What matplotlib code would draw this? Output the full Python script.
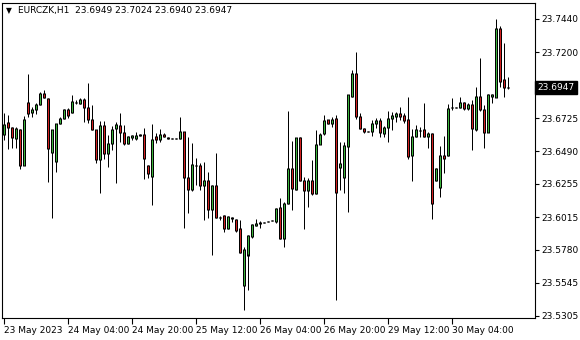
import matplotlib
matplotlib.use("Agg")
import matplotlib.pyplot as plt
from matplotlib.transforms import blended_transform_factory

# ---------------- data (EURCZK, H1) ----------------
opens = [23.6613, 23.6694, 23.6661, 23.6582, 23.6649, 23.6388, 23.6841, 23.6766, 23.6786, 23.6827,
         23.6901, 23.6870, 23.6479, 23.6414, 23.6690, 23.6726, 23.6786, 23.6769, 23.6836, 23.6834,
         23.6858, 23.6805, 23.6714, 23.6642, 23.6433, 23.6673, 23.6474, 23.6546, 23.6654, 23.6671,
         23.6625, 23.6546, 23.6587, 23.6582, 23.6605, 23.6606, 23.6390, 23.6306, 23.6594, 23.6575,
         23.6611, 23.6584, 23.6579, 23.6579, 23.6582, 23.6630, 23.6302, 23.6211, 23.6383, 23.6383,
         23.6241, 23.6282, 23.6072, 23.6246, 23.6011, 23.6024, 23.5935, 23.6004, 23.6000, 23.5935,
         23.5527, 23.5743, 23.5875, 23.5957, 23.5973, 23.5975, 23.5983, 23.5990, 23.5983, 23.6087,
         23.5860, 23.6115, 23.6367, 23.6216, 23.6587, 23.6282, 23.6207, 23.6277, 23.6185, 23.6541,
         23.6618, 23.6714, 23.6690, 23.6721, 23.6374, 23.6297, 23.6523, 23.6886, 23.7050, 23.6740,
         23.6654, 23.6630, 23.6630, 23.6690, 23.6707, 23.6618, 23.6663, 23.6726, 23.6738, 23.6762,
         23.6743, 23.6714, 23.6457, 23.6594, 23.6638, 23.6642, 23.6594, 23.6618, 23.6282, 23.6228,
         23.6455, 23.6457, 23.6802, 23.6802, 23.6802, 23.6841, 23.6793, 23.6827, 23.6642, 23.6886,
         23.6791, 23.6625, 23.6881, 23.6879, 23.7373, 23.7006, 23.6949]
highs = [23.6764, 23.6750, 23.6666, 23.6666, 23.6649, 23.6743, 23.7045, 23.6809, 23.6834, 23.6917,
         23.6930, 23.6870, 23.6642, 23.6685, 23.6738, 23.6791, 23.6800, 23.6894, 23.6855, 23.6872,
         23.6870, 23.6978, 23.6822, 23.6642, 23.6707, 23.6707, 23.6606, 23.6673, 23.6702, 23.6762,
         23.6678, 23.6601, 23.6606, 23.6630, 23.6613, 23.6654, 23.6390, 23.6685, 23.6618, 23.6647,
         23.6623, 23.6588, 23.6582, 23.6582, 23.6738, 23.6630, 23.6589, 23.6546, 23.6438, 23.6407,
         23.6414, 23.6342, 23.6246, 23.6474, 23.6024, 23.6031, 23.6024, 23.6019, 23.6000, 23.5995,
         23.5799, 23.5887, 23.5966, 23.6002, 23.5990, 23.5977, 23.5985, 23.5992, 23.6080, 23.6151,
         23.6125, 23.6779, 23.6563, 23.6587, 23.6589, 23.6306, 23.6297, 23.6426, 23.6642, 23.6618,
         23.6753, 23.6717, 23.6732, 23.6753, 23.6559, 23.6556, 23.6894, 23.7073, 23.7201, 23.6762,
         23.6656, 23.6632, 23.6714, 23.6726, 23.6730, 23.6673, 23.6776, 23.6773, 23.6771, 23.6805,
         23.6762, 23.6881, 23.6647, 23.6678, 23.6666, 23.6838, 23.6630, 23.6623, 23.6369, 23.6527,
         23.6599, 23.6829, 23.6870, 23.6804, 23.6877, 23.6845, 23.6836, 23.6858, 23.6951, 23.7157,
         23.6818, 23.6901, 23.6901, 23.7440, 23.7390, 23.7265, 23.7024]
lows = [23.6570, 23.6505, 23.6515, 23.6510, 23.6359, 23.6388, 23.6738, 23.6733, 23.6757, 23.6822,
        23.6872, 23.6270, 23.6007, 23.6338, 23.6685, 23.6719, 23.6728, 23.6762, 23.6827, 23.6829,
        23.6702, 23.6694, 23.6642, 23.6402, 23.6191, 23.6433, 23.6378, 23.6498, 23.6263, 23.6553,
        23.6534, 23.6539, 23.6570, 23.6570, 23.6599, 23.6287, 23.6299, 23.6103, 23.6546, 23.6555,
        23.6589, 23.6577, 23.6575, 23.6575, 23.6575, 23.5935, 23.6048, 23.6206, 23.6246, 23.6211,
        23.5995, 23.6007, 23.5743, 23.6007, 23.5995, 23.5911, 23.5930, 23.5979, 23.5911, 23.5755,
        23.5348, 23.5491, 23.5868, 23.5952, 23.5937, 23.5973, 23.5981, 23.5988, 23.5971, 23.5858,
        23.5799, 23.6113, 23.6067, 23.6211, 23.6275, 23.5932, 23.6087, 23.6175, 23.6183, 23.6538,
        23.6606, 23.6685, 23.6666, 23.5423, 23.6211, 23.6192, 23.6050, 23.6876, 23.6721, 23.6649,
        23.6620, 23.6628, 23.6601, 23.6658, 23.6594, 23.6594, 23.6552, 23.6642, 23.6702, 23.6714,
        23.6694, 23.6433, 23.6275, 23.6589, 23.6589, 23.6589, 23.6515, 23.6002, 23.6277, 23.6157,
        23.6336, 23.6455, 23.6786, 23.6800, 23.6798, 23.6786, 23.6786, 23.6495, 23.6637, 23.6781,
        23.6510, 23.6624, 23.6838, 23.6877, 23.6949, 23.6876, 23.6940]
closes = [23.6678, 23.6658, 23.6589, 23.6654, 23.6385, 23.6719, 23.6762, 23.6791, 23.6822, 23.6901,
          23.6874, 23.6510, 23.6642, 23.6685, 23.6726, 23.6786, 23.6743, 23.6845, 23.6843, 23.6858,
          23.6805, 23.6714, 23.6649, 23.6433, 23.6673, 23.6474, 23.6546, 23.6649, 23.6683, 23.6625,
          23.6546, 23.6594, 23.6601, 23.6601, 23.6607, 23.6438, 23.6331, 23.6575, 23.6575, 23.6611,
          23.6594, 23.6585, 23.6578, 23.6578, 23.6630, 23.6302, 23.6211, 23.6397, 23.6390, 23.6246,
          23.6282, 23.6072, 23.6246, 23.6011, 23.6013, 23.5935, 23.6019, 23.6014, 23.5916, 23.5760,
          23.5784, 23.5880, 23.5959, 23.5971, 23.5975, 23.5976, 23.5984, 23.5991, 23.6080, 23.5860,
          23.6110, 23.6367, 23.6223, 23.6587, 23.6282, 23.6207, 23.6279, 23.6185, 23.6539, 23.6613,
          23.6712, 23.6690, 23.6714, 23.6194, 23.6402, 23.6527, 23.6894, 23.7050, 23.6740, 23.6654,
          23.6628, 23.6631, 23.6690, 23.6707, 23.6625, 23.6663, 23.6726, 23.6743, 23.6762, 23.6738,
          23.6709, 23.6450, 23.6594, 23.6642, 23.6636, 23.6594, 23.6618, 23.6113, 23.6367, 23.6455,
          23.6437, 23.6798, 23.6803, 23.6803, 23.6841, 23.6798, 23.6827, 23.6654, 23.6886, 23.6786,
          23.6625, 23.6899, 23.6894, 23.7373, 23.6994, 23.6949, 23.6947]

time_labels = ["23 May 2023", "24 May 04:00", "24 May 20:00", "25 May 12:00",
               "26 May 04:00", "26 May 20:00", "29 May 12:00", "30 May 04:00"]
bars_per_label = 16
price_ticks = [23.7440, 23.7200, 23.6725, 23.6490, 23.6255, 23.6015, 23.5780, 23.5545, 23.5305]
header = "EURCZK,H1  23.6949 23.7024 23.6940 23.6947"
last_price = closes[-1]

# ---------------- figure ----------------
W, H = 580, 340
fig = plt.figure(figsize=(W / 100, H / 100), dpi=100)
fig.patch.set_facecolor("white")
AX_L, AX_R, AX_T, AX_B = 2, 535, 3, 318
ax = fig.add_axes([AX_L / W, 1 - AX_B / H, (AX_R - AX_L) / W, (AX_B - AX_T) / H])
ax.set_facecolor("white")

YMIN, YMAX = 23.5290, 23.7555
ax.set_xlim(-0.375, (AX_R - 3.5) / 4)
ax.set_ylim(YMIN, YMAX)
px = (YMAX - YMIN) / (AX_B - AX_T)   # data units per pixel (vertical)
PT = 0.72                            # one pixel in points at 100 dpi

UP = "#3cb43c"
DN = "#d22020"
n = len(opens)
xs = list(range(n))
bottoms = [min(o, c) for o, c in zip(opens, closes)]
tops = [max(o, c) for o, c in zip(opens, closes)]
colors = [UP if c >= o else DN for o, c in zip(opens, closes)]

# wicks
ax.vlines(xs, lows, highs, color="black", linewidth=PT, zorder=2, capstyle="butt")
# body outline (black, 3 px wide)
ax.vlines(xs, [b - 0.5 * px for b in bottoms], [max(t + 0.5 * px, b + 0.5 * px) for b, t in zip(bottoms, tops)],
          color="black", linewidth=3 * PT, zorder=3, capstyle="butt")
# body fill (1 px wide inside the outline)
fill_x, fill_b, fill_t, fill_c = [], [], [], []
for x, b, t, c in zip(xs, bottoms, tops, colors):
    if t - b > px:
        fill_x.append(x)
        fill_b.append(b + 0.5 * px)
        fill_t.append(t - 0.5 * px)
        fill_c.append(c)
ax.vlines(fill_x, fill_b, fill_t, colors=fill_c, linewidth=PT, zorder=4, capstyle="butt")

for s in ax.spines.values():
    s.set_linewidth(0.8)
    s.set_color("black")

fs = 6.5
ax.yaxis.tick_right()
ax.set_yticks(price_ticks)
ax.set_yticklabels([f"{v:.4f}" for v in price_ticks], fontsize=fs, family="DejaVu Sans")
ax.tick_params(axis="y", direction="out", length=3, width=0.8, pad=1.5)

xt = [i * bars_per_label for i in range(len(time_labels))]
ax.set_xticks(xt)
ax.set_xticklabels(time_labels, fontsize=fs, family="DejaVu Sans", ha="left")
ax.tick_params(axis="x", direction="out", length=4, width=0.8, pad=1.5)

# current price label
trans = blended_transform_factory(ax.transAxes, ax.transData)
ax.text(1.004, last_price, f"{last_price:.4f}", transform=trans, fontsize=fs,
        color="white", va="center", ha="left", family="DejaVu Sans",
        bbox=dict(boxstyle="square,pad=0.25", facecolor="black", edgecolor="black"),
        zorder=10, clip_on=False)

# header
fig.text(6 / W, 1 - 10.5 / H, "\u25BC", fontsize=5.5, va="center", ha="left", color="black")
fig.text(18 / W, 1 - 10.5 / H, header, fontsize=fs, va="center", ha="left",
         color="black", family="DejaVu Sans")

fig.savefig("out.png", dpi=100, facecolor="white")
